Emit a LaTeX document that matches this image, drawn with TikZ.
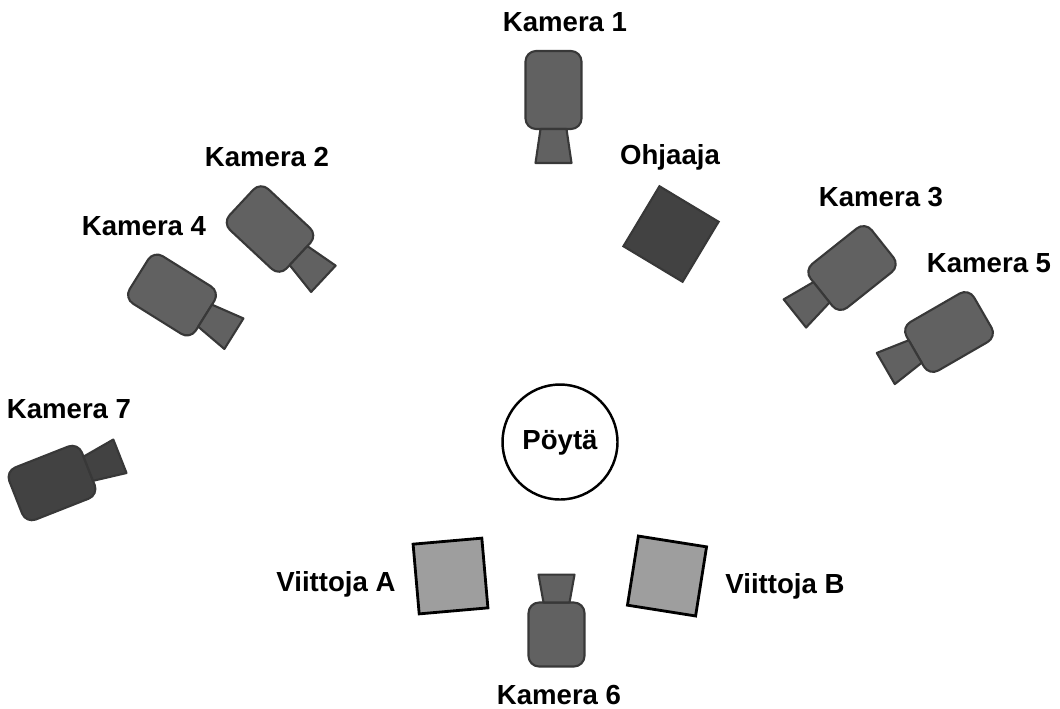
\documentclass[tikz,border=0pt]{standalone}
\usepackage{fontspec}
\setmainfont{Liberation Sans}

\definecolor{kamfill}{gray}{0.38}
\definecolor{kamdark}{gray}{0.26}
\definecolor{kamline}{gray}{0.22}
\definecolor{viitfill}{gray}{0.62}

\tikzset{
 lbl/.style={font=\fontsize{15.7}{18}\selectfont\bfseries,inner sep=0pt},
 kamera/.pic={
  \draw[fill=#1,draw=kamline,line width=1.2pt,rounded corners=6pt]
    (-28,-39) rectangle (28,39); %runko
  \draw[fill=#1,draw=kamline,line width=1.2pt,line join=round]
    (-13,39)--(13,39)--(18,73)--(-18,73)--cycle; %linssi
 },
 ihminen/.style={draw,minimum width=1.38cm,minimum height=1.40cm,inner sep=0pt,line join=miter},
}

\begin{document}
\begin{tikzpicture}[x=0.02cm,y=-0.02cm]
 \useasboundingbox (0,0) rectangle (1060,708);

 \foreach \x/\y/\r/\c in {553.5/90/0/kamfill,270/229/47/kamfill,172/295/58/kamfill,
   852/268/-51.5/kamfill,949/332/-60/kamfill,52/483/111.5/kamdark}
   \pic[rotate=\r] at (\x,\y) {kamera=\c};
 \pic[rotate=180,yscale=0.82] at (556.5,634.5) {kamera=kamfill}; %Kamera 6

 \node[ihminen,fill=kamdark,draw=kamline,rotate=-31,line width=1.2pt] (ohjaaja) at (671,234) {};
 \node[ihminen,fill=viitfill,rotate=5,line width=1.6pt] (viittojaA) at (450.5,576) {};
 \node[ihminen,fill=viitfill,rotate=-9,line width=1.6pt] (viittojaB) at (667,576) {};
 \node[circle,draw,line width=1.4pt,minimum size=2.3cm,inner sep=0pt] (poyta) at (560,442) {};

 \foreach \n/\x/\y/\t in {k1/565/22/Kamera 1,k2/267/157/Kamera 2,k3/881/197/Kamera 3,
   k4/144/226/Kamera 4,k5/989/263/Kamera 5,k6/559/695/Kamera 6,k7/69/409/Kamera 7,
   lo/670/157/Ohjaaja,lp/560/443/Pöytä,la/336/584/Viittoja A,lb/785/586/Viittoja B}
   \node[lbl] (\n) at (\x,\y) {\t};
\end{tikzpicture}
\end{document}
